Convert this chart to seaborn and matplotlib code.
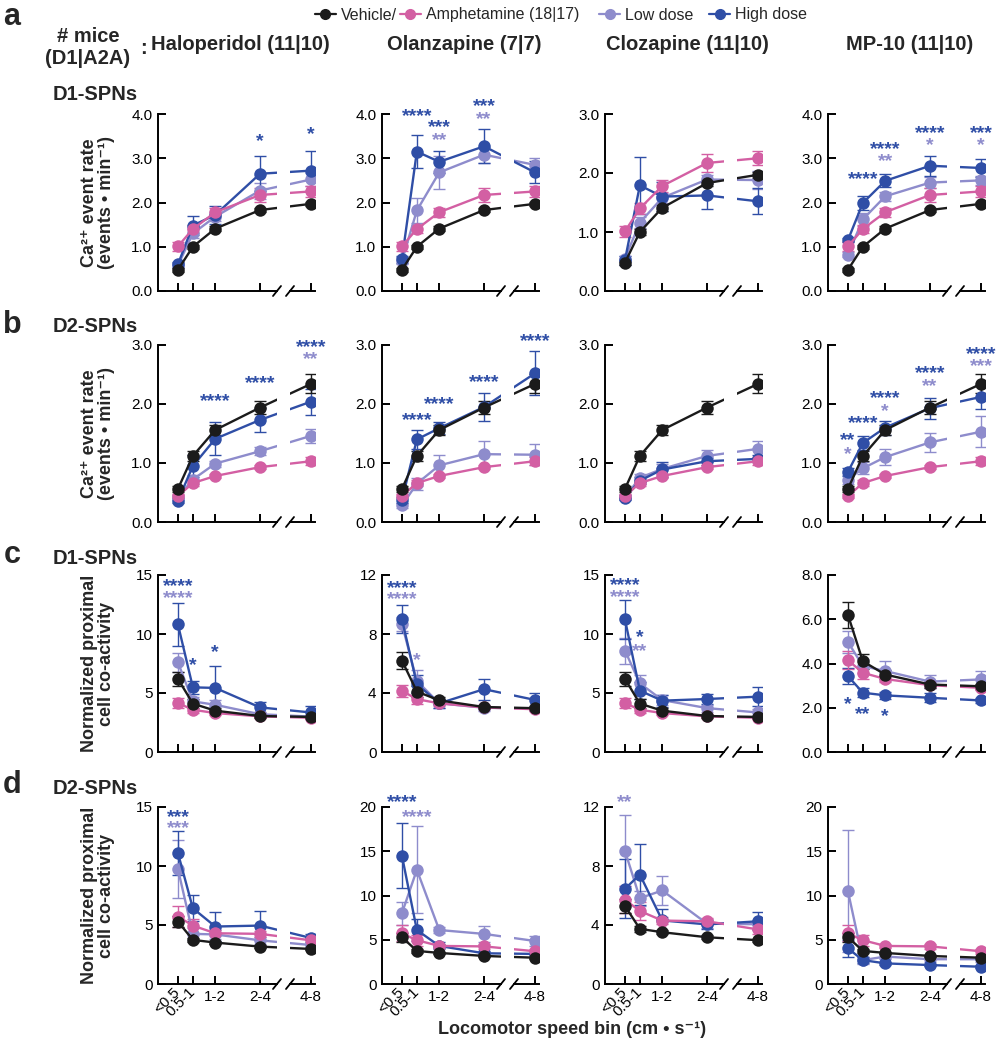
import numpy as np
import pandas as pd
import seaborn as sns
import matplotlib.pyplot as plt
from matplotlib.lines import Line2D

sns.set_style('ticks')
plt.rcParams['font.family'] = ['Liberation Sans', 'DejaVu Sans']

# speed bins (last bin sits after the axis break)
bin_labels = ['<0.5', '0.5-1', '1-2', '2-4', '4-8']
bin_pos = [0.25, 0.75, 1.5, 3.0, 4.7]

drugs = ['Haloperidol (11|10)', 'Olanzapine (7|7)', 'Clozapine (11|10)', 'MP-10 (11|10)']
groups = ['low', 'high', 'amph', 'veh']
colors = {'veh': '#1b1b1b', 'amph': '#d35fa3', 'low': '#8e8ccc', 'high': '#2f4ea6'}

# ---- row a: D1-SPN Ca2+ event rate ----
veh_a = [0.48, 1.00, 1.41, 1.83, 1.97]
veh_a_err = [0.04, 0.05, 0.05, 0.05, 0.05]
amph_a = [1.01, 1.40, 1.78, 2.17, 2.25]
amph_a_err = [0.10, 0.09, 0.10, 0.15, 0.12]
low_a = [[0.58, 1.30, 1.68, 2.27, 2.52], [0.68, 1.82, 2.68, 3.08, 2.85],
         [0.55, 1.16, 1.58, 1.89, 1.88], [0.82, 1.62, 2.14, 2.45, 2.50]]
low_a_err = [[0.06, 0.10, 0.10, 0.18, 0.15], [0.08, 0.28, 0.38, 0.18, 0.15],
             [0.05, 0.10, 0.08, 0.08, 0.15], [0.06, 0.15, 0.10, 0.12, 0.10]]
high_a = [[0.60, 1.48, 1.72, 2.65, 2.72], [0.72, 3.15, 2.92, 3.27, 2.68],
          [0.52, 1.79, 1.60, 1.62, 1.52], [1.15, 1.99, 2.49, 2.83, 2.78]]
high_a_err = [[0.05, 0.22, 0.20, 0.40, 0.45], [0.08, 0.38, 0.25, 0.38, 0.25],
              [0.08, 0.48, 0.25, 0.23, 0.22], [0.05, 0.15, 0.15, 0.22, 0.20]]
stars_a = [
    [(3, 3.52, '*', 'high'), (4, 3.69, '*', 'high')],
    [(1, 4.08, '****', 'high'), (2, 3.84, '***', 'high'), (2, 3.56, '**', 'low'),
     (3, 4.32, '***', 'high'), (3, 4.03, '**', 'low')],
    [],
    [(1, 2.67, '****', 'high'), (2, 3.35, '****', 'high'), (2, 3.07, '**', 'low'),
     (3, 3.71, '****', 'high'), (3, 3.43, '*', 'low'), (4, 3.71, '***', 'high'),
     (4, 3.43, '*', 'low')],
]
ytop_a = [4, 4, 3, 4]
ystep_a = [1, 1, 1, 1]
ydec_a = [1, 1, 1, 1]

# ---- row b: D2-SPN Ca2+ event rate ----
veh_b = [0.56, 1.12, 1.56, 1.94, 2.34]
veh_b_err = [0.05, 0.08, 0.09, 0.11, 0.16]
amph_b = [0.44, 0.66, 0.78, 0.93, 1.03]
amph_b_err = [0.04, 0.05, 0.04, 0.04, 0.07]
low_b = [[0.42, 0.72, 0.99, 1.20, 1.46], [0.28, 0.65, 0.96, 1.15, 1.14],
         [0.42, 0.75, 0.90, 1.12, 1.24], [0.72, 0.91, 1.10, 1.35, 1.53]]
low_b_err = [[0.04, 0.08, 0.05, 0.07, 0.12], [0.04, 0.10, 0.18, 0.22, 0.18],
             [0.04, 0.07, 0.08, 0.10, 0.13], [0.08, 0.10, 0.14, 0.16, 0.26]]
high_b = [[0.36, 0.95, 1.41, 1.73, 2.04], [0.37, 1.40, 1.59, 1.95, 2.52],
          [0.41, 0.70, 0.89, 1.03, 1.07], [0.85, 1.34, 1.60, 1.93, 2.12]]
high_b_err = [[0.04, 0.18, 0.28, 0.20, 0.22], [0.05, 0.16, 0.10, 0.24, 0.37],
              [0.04, 0.06, 0.12, 0.06, 0.06], [0.07, 0.12, 0.12, 0.18, 0.20]]
stars_b = [
    [(2, 2.15, '****', 'high'), (3, 2.46, '****', 'high'), (4, 3.07, '****', 'high'),
     (4, 2.86, '**', 'low')],
    [(1, 1.83, '****', 'high'), (2, 2.11, '****', 'high'), (3, 2.48, '****', 'high'),
     (4, 3.17, '****', 'high')],
    [],
    [(0, 1.49, '**', 'high'), (0, 1.25, '*', 'low'), (1, 1.78, '****', 'high'),
     (2, 2.20, '****', 'high'), (2, 1.99, '*', 'low'), (3, 2.62, '****', 'high'),
     (3, 2.40, '**', 'low'), (4, 2.95, '****', 'high'), (4, 2.74, '***', 'low')],
]
ytop_b = [3, 3, 3, 3]
ystep_b = [1, 1, 1, 1]
ydec_b = [1, 1, 1, 1]

# ---- row c: D1-SPN proximal co-activity ----
veh_c = [6.20, 4.10, 3.50, 3.05, 2.97]
veh_c_err = [0.60, 0.35, 0.20, 0.15, 0.12]
amph_c = [4.15, 3.58, 3.30, 3.02, 2.90]
amph_c_err = [0.40, 0.30, 0.15, 0.10, 0.10]
low_c = [[7.60, 4.29, 4.00, 3.20, 3.00], [8.67, 4.82, 3.30, 3.00, 2.95],
         [8.60, 5.82, 4.40, 3.72, 3.35], [4.97, 3.89, 3.66, 3.18, 3.28]]
low_c_err = [[0.80, 0.40, 0.40, 0.20, 0.15], [0.50, 0.75, 0.30, 0.20, 0.15],
             [1.10, 0.70, 0.40, 0.30, 0.30], [0.50, 0.30, 0.45, 0.30, 0.40]]
high_c = [[10.82, 5.48, 5.43, 3.78, 3.35], [9.01, 4.60, 3.30, 4.26, 3.53],
          [11.25, 5.20, 4.35, 4.49, 4.69], [3.43, 2.68, 2.56, 2.45, 2.33]]
high_c_err = [[1.82, 0.55, 1.84, 0.48, 0.55], [0.97, 0.60, 0.30, 0.72, 0.50],
              [1.65, 0.70, 0.50, 0.40, 0.78], [0.35, 0.20, 0.15, 0.20, 0.12]]
stars_c = [
    [(0, 14.6, '****', 'high'), (0, 13.6, '****', 'low'), (1, 7.9, '*', 'high'),
     (2, 8.95, '*', 'high')],
    [(0, 11.55, '****', 'high'), (0, 10.75, '****', 'low'), (1, 6.68, '*', 'low')],
    [(0, 14.7, '****', 'high'), (0, 13.66, '****', 'low'), (1, 10.25, '*', 'high'),
     (1, 9.03, '**', 'low')],
    [(0, 2.45, '*', 'high'), (1, 1.97, '**', 'high'), (2, 1.88, '*', 'high')],
]
ytop_c = [15, 12, 15, 8]
ystep_c = [5, 4, 5, 2]
ydec_c = [0, 0, 0, 1]

# ---- row d: D2-SPN proximal co-activity ----
veh_d = [5.29, 3.74, 3.51, 3.17, 2.97]
veh_d_err = [0.50, 0.20, 0.15, 0.12, 0.10]
amph_d = [5.72, 4.95, 4.30, 4.25, 3.70]
amph_d_err = [0.90, 0.60, 0.25, 0.25, 0.30]
low_d = [[9.74, 4.25, 4.20, 3.70, 3.30], [8.00, 12.90, 6.10, 5.66, 4.86],
         [9.03, 5.82, 6.34, 4.09, 4.05], [10.50, 2.70, 3.10, 2.80, 2.80]]
low_d_err = [[2.45, 0.50, 0.40, 0.30, 0.20], [1.30, 4.90, 0.30, 0.90, 0.60],
             [2.40, 0.50, 0.97, 0.30, 0.30], [6.90, 0.40, 0.30, 0.30, 0.30]]
high_d = [[11.10, 6.42, 4.87, 4.95, 3.90], [14.50, 6.10, 4.30, 3.47, 3.40],
          [6.45, 7.42, 4.31, 4.04, 4.25], [4.02, 2.70, 2.33, 2.14, 1.95]]
high_d_err = [[1.90, 1.10, 1.20, 1.20, 0.35], [3.70, 1.20, 0.40, 0.30, 0.30],
              [2.00, 2.05, 0.80, 0.30, 0.60], [0.94, 0.30, 0.20, 0.15, 0.15]]
stars_d = [
    [(0, 14.7, '***', 'high'), (0, 13.7, '***', 'low')],
    [(0, 21.3, '****', 'high'), (1, 19.6, '****', 'low')],
    [(0, 12.74, '**', 'low')],
    [],
]
ytop_d = [15, 20, 12, 20]
ystep_d = [5, 5, 4, 5]
ydec_d = [0, 0, 0, 1 - 1]

rate_label = 'Ca\u00b2\u207a event rate\n(events \u2022 min\u207b\u00b9)'
coact_label = 'Normalized proximal\ncell co-activity'

W, H = 996, 1050
fig = plt.figure(figsize=(W / 100, H / 100), dpi=100)

col_left = [158, 382, 605, 828]
LW_L, GAP, LW_R = 119, 13, 25
XL = (-0.417, 3.567)
XR = (4.0, 4.833)


def px_axes(left, top, width, height):
    return fig.add_axes([left / W, 1 - (top + height) / H, width / W, height / H])


def style_axis(ax, ytop, ystep, ydec, bottom_labels):
    ax.set_ylim(0, ytop)
    for s in ['top', 'right']:
        ax.spines[s].set_visible(False)
    for s in ['left', 'bottom']:
        ax.spines[s].set_linewidth(1.4)
        ax.spines[s].set_color('black')
    ax.tick_params(direction='in', length=6, width=1.4, labelsize=11, pad=4,
                   colors='black', labelbottom=bottom_labels)
    ax.set_xlabel('')
    ax.set_ylabel('')


def draw_panel(top, col, veh, veh_err, amph, amph_err, low, low_err, high, high_err,
               stars, ytop, ystep, ydec, ylabel=None, bottom=False):
    left = col_left[col]
    height = 177
    ax_l = px_axes(left, top, LW_L, height)
    ax_r = px_axes(left + LW_L + GAP, top, LW_R, height)
    vals = {'veh': veh, 'amph': amph, 'low': low, 'high': high}
    errs = {'veh': veh_err, 'amph': amph_err, 'low': low_err, 'high': high_err}
    df = pd.DataFrame({
        'bin': np.tile(bin_pos, len(groups)),
        'value': np.concatenate([vals[g] for g in groups]),
        'group': np.repeat(groups, len(bin_pos)),
    })
    for ax in (ax_l, ax_r):
        for g in groups:
            ax.errorbar(bin_pos, vals[g], yerr=errs[g], fmt='none', ecolor=colors[g],
                        elinewidth=1.0, capsize=4, capthick=1.0)
        sns.lineplot(data=df, x='bin', y='value', hue='group', hue_order=groups,
                     palette=colors, marker='o', markersize=9, markeredgewidth=0,
                     linewidth=1.7, legend=False, ax=ax)
    ax_l.set_xlim(*XL)
    ax_r.set_xlim(*XR)
    style_axis(ax_l, ytop, ystep, ydec, bottom)
    style_axis(ax_r, ytop, ystep, ydec, bottom)
    ax_r.spines['left'].set_visible(False)
    ax_r.set_yticks([])

    yt = np.arange(0, ytop + ystep / 2, ystep)
    ax_l.set_yticks(yt)
    ax_l.set_yticklabels([f'{v:.{ydec}f}' for v in yt])
    ax_l.set_xticks(bin_pos[:4])
    ax_r.set_xticks(bin_pos[4:])
    if bottom:
        labs = ax_l.set_xticklabels(bin_labels[:4])
        ax_r.set_xticklabels(bin_labels[4:])
        for lab in labs[:2]:
            lab.set_rotation(45)
            lab.set_ha('right')
            lab.set_va('center')
            lab.set_rotation_mode('anchor')

    # axis break marks
    for ax, xa, wpx in ((ax_l, 1.0, LW_L), (ax_r, 0.0, LW_R)):
        dx, dy = 4 / wpx, 5 / height
        ax.plot([xa - dx, xa + dx], [-dy, dy], transform=ax.transAxes, color='black',
                lw=1.3, clip_on=False)

    for b, y, txt, dose in stars:
        ax = ax_l if b < 4 else ax_r
        ax.annotate(txt, (bin_pos[b], y), xytext=(0, -8), textcoords='offset points',
                    ha='center', va='baseline', color=colors[dose], fontsize=14,
                    fontweight='bold', annotation_clip=False)

    if ylabel:
        ax_l.set_ylabel(ylabel, fontsize=13, fontweight='bold', linespacing=1.05)
        ax_l.yaxis.set_label_coords(-0.36, 0.5)
    return ax_l, ax_r


rows = [
    (114, veh_a, veh_a_err, amph_a, amph_a_err, low_a, low_a_err, high_a, high_a_err,
     stars_a, ytop_a, ystep_a, ydec_a, rate_label),
    (345, veh_b, veh_b_err, amph_b, amph_b_err, low_b, low_b_err, high_b, high_b_err,
     stars_b, ytop_b, ystep_b, ydec_b, rate_label),
    (575, veh_c, veh_c_err, amph_c, amph_c_err, low_c, low_c_err, high_c, high_c_err,
     stars_c, ytop_c, ystep_c, ydec_c, coact_label),
    (807, veh_d, veh_d_err, amph_d, amph_d_err, low_d, low_d_err, high_d, high_d_err,
     stars_d, ytop_d, ystep_d, ydec_d, coact_label),
]
for r, (top, veh, veh_e, amph, amph_e, low, low_e, high, high_e,
        stars, ytop, ystep, ydec, ylab) in enumerate(rows):
    for c in range(4):
        draw_panel(top, c, veh, veh_e, amph, amph_e, low[c], low_e[c], high[c], high_e[c],
                   stars[c], ytop[c], ystep[c], ydec[c],
                   ylabel=ylab if c == 0 else None, bottom=(r == 3))


def ftext(x, y, s, **kw):
    fig.text(x / W, 1 - y / H, s, ha='center', va='center', **kw)


for letter, y in zip('abcd', [17, 325, 555, 785]):
    ftext(12, y, letter, fontsize=22, fontweight='bold')
for lab, y in zip(['D1-SPNs', 'D2-SPNs', 'D1-SPNs', 'D2-SPNs'], [95, 327, 558, 789]):
    ftext(95, y, lab, fontsize=14.5, fontweight='bold')
ftext(88, 36, '# mice', fontsize=14.5, fontweight='bold')
ftext(88, 59, '(D1|A2A)', fontsize=14.5, fontweight='bold')
ftext(143, 48, ':', fontsize=14.5, fontweight='bold')
for c, name in enumerate(drugs):
    ftext(col_left[c] + 82, 45, name, fontsize=14.5, fontweight='bold')
ftext(572, 1030, 'Locomotor speed bin (cm \u2022 s\u207b\u00b9)', fontsize=13, fontweight='bold')

# legend
def handle(g):
    return Line2D([0], [0], color=colors[g], marker='o', markersize=7, lw=1.6)


leg_kw = dict(loc='center', frameon=False, ncol=2, fontsize=11.5, handlelength=1.3,
              handletextpad=0.3, borderpad=0, borderaxespad=0)
fig.legend([handle('veh'), handle('amph')], ['Vehicle/', 'Amphetamine (18|17)'],
           bbox_to_anchor=(447 / W, 1 - 15 / H), columnspacing=0.2, **leg_kw)
fig.legend([handle('low'), handle('high')], ['Low dose', 'High dose'],
           bbox_to_anchor=(703 / W, 1 - 15 / H), columnspacing=1.0, **leg_kw)

fig.savefig('out.png', dpi=100)
